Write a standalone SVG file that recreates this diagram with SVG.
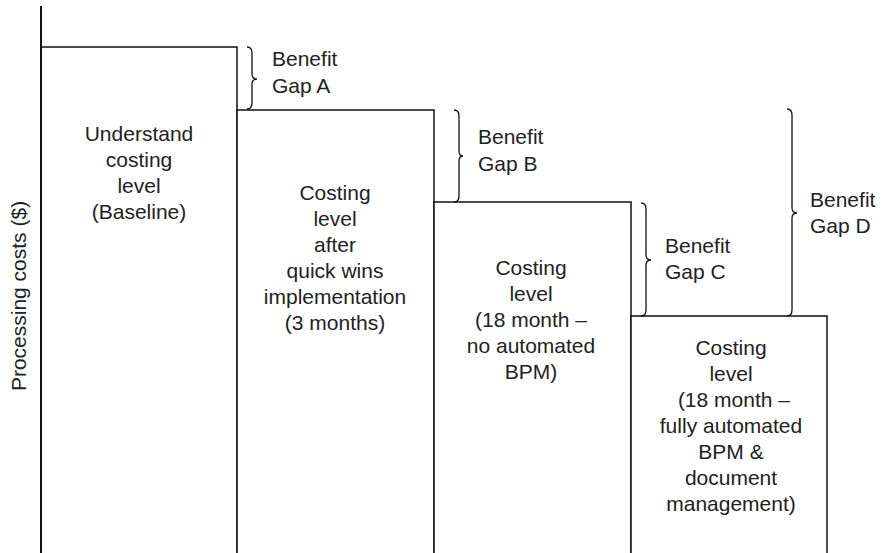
<svg xmlns="http://www.w3.org/2000/svg" width="885" height="553" viewBox="0 0 885 553">
<style>
.bar{fill:#fff;stroke:#111;stroke-width:1.5}
.brace{fill:none;stroke:#111;stroke-width:1.3}
text{font-family:"Liberation Sans",Arial,sans-serif;font-size:21px;fill:#222}
.c{text-anchor:middle}
</style>
<rect width="885" height="553" fill="#fff"/>
<g id="bar-baseline">
<rect class="bar" x="41" y="47" width="196" height="520"/>
<text class="c" x="139"><tspan x="139" y="141">Understand</tspan><tspan x="139" y="167">costing</tspan><tspan x="139" y="193">level</tspan><tspan x="139" y="219">(Baseline)</tspan></text>
</g>
<g id="bar-quickwins">
<rect class="bar" x="237" y="110" width="197" height="460"/>
<text class="c"><tspan x="335" y="200">Costing</tspan><tspan x="335" y="226">level</tspan><tspan x="335" y="252">after</tspan><tspan x="335" y="278">quick wins</tspan><tspan x="335" y="304">implementation</tspan><tspan x="335" y="330">(3 months)</tspan></text>
</g>
<g id="bar-noautomation">
<rect class="bar" x="434" y="202" width="197" height="370"/>
<text class="c"><tspan x="531" y="275">Costing</tspan><tspan x="531" y="301">level</tspan><tspan x="531" y="327">(18 month –</tspan><tspan x="531" y="353">no automated</tspan><tspan x="531" y="379">BPM)</tspan></text>
</g>
<g id="bar-fullautomation">
<rect class="bar" x="631" y="316" width="196" height="260"/>
<text class="c"><tspan x="731" y="355">Costing</tspan><tspan x="731" y="381">level</tspan><tspan x="731" y="407"> (18 month –</tspan><tspan x="731" y="433">fully automated</tspan><tspan x="731" y="459">BPM &amp;</tspan><tspan x="731" y="485">document</tspan><tspan x="731" y="511">management)</tspan></text>
</g>
<g id="axis">
<line x1="41" y1="6" x2="41" y2="553" stroke="#111" stroke-width="2"/>
<text class="c" transform="translate(26,296) rotate(-90)" x="0" y="0">Processing costs ($)</text>
</g>
<g id="connectors">
<path class="brace" d="M247,47 Q252,47 252,53 L252,74 Q252,79 257,79 Q252,79 252,84 L252,103 Q252,109 247,109"/>
<path class="brace" d="M454,110 Q459,110 459,116 L459,151 Q459,156 463,156 Q459,156 459,161 L459,196 Q459,202 454,202"/>
<path class="brace" d="M641,203 Q646,203 646,209 L646,255 Q646,260 651,260 Q646,260 646,265 L646,310 Q646,316 641,316"/>
<path class="brace" d="M787,109 Q792,109 792,115 L792,208 Q792,213 797,213 Q792,213 792,218 L792,310 Q792,316 787,316"/>
</g>
<g id="gap-a"><text><tspan x="272" y="66">Benefit</tspan><tspan x="272" y="93">Gap A</tspan></text></g>
<g id="gap-b"><text><tspan x="478" y="144">Benefit</tspan><tspan x="478" y="171">Gap B</tspan></text></g>
<g id="gap-c"><text><tspan x="665" y="253">Benefit</tspan><tspan x="665" y="279">Gap C</tspan></text></g>
<g id="gap-d"><text><tspan x="810" y="207">Benefit</tspan><tspan x="810" y="233">Gap D</tspan></text></g>
</svg>
